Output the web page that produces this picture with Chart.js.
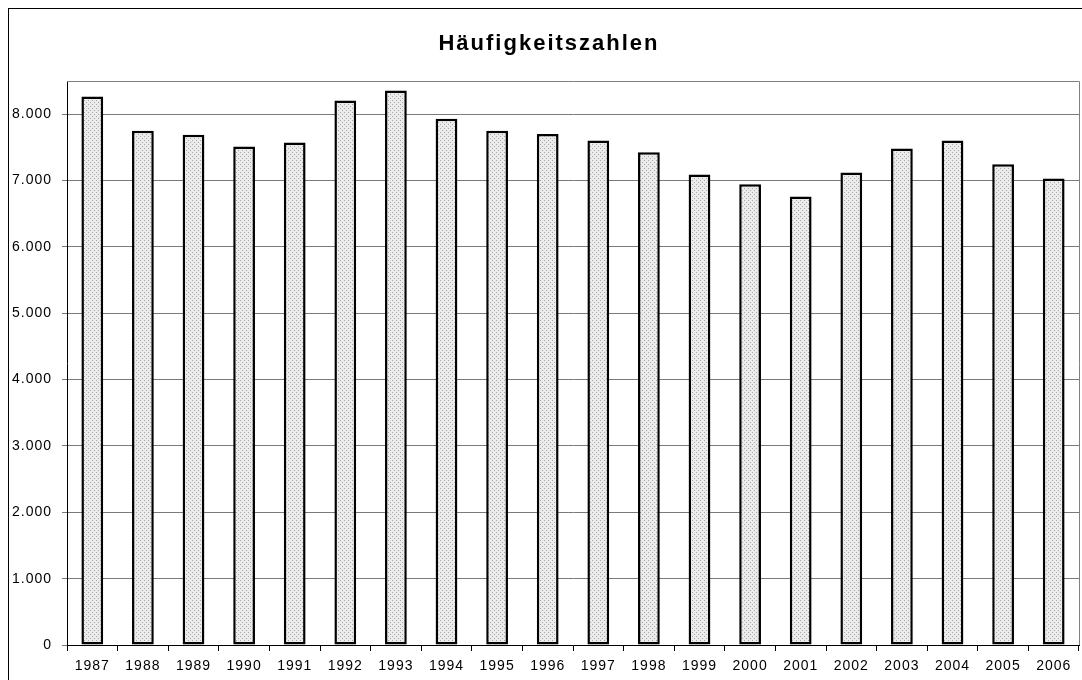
<!DOCTYPE html>
<html>
<head>
<meta charset="utf-8">
<script src="https://cdn.jsdelivr.net/npm/chart.js@4"></script>
<style>
  html, body { margin: 0; padding: 0; background: #ffffff; }
  #wrap { width: 1082px; height: 680px; }
</style>
</head>
<body>
<div id="wrap"><canvas id="c" width="1082" height="680"></canvas></div>
<script>
const chartTitle = 'Häufigkeitszahlen';
const years = ['1987','1988','1989','1990','1991','1992','1993','1994','1995','1996',
               '1997','1998','1999','2000','2001','2002','2003','2004','2005','2006'];
const counts = [8265, 7750, 7690, 7514, 7574, 8205, 8358, 7932, 7750, 7701,
                7604, 7426, 7091, 6944, 6761, 7122, 7483, 7604, 7244, 7030];
const yTickValues = [0, 1000, 2000, 3000, 4000, 5000, 6000, 7000, 8000];
const yMax = 8500;

function makePattern() {
  const p = document.createElement('canvas');
  p.width = 4; p.height = 4;
  const g = p.getContext('2d');
  g.fillStyle = '#ebebeb';
  g.fillRect(0, 0, 4, 4);
  g.fillStyle = '#a8a8a8';
  g.fillRect(0, 0, 1, 1);
  g.fillRect(2, 2, 1, 1);
  return document.getElementById('c').getContext('2d').createPattern(p, 'repeat');
}

function fmt(v) {
  return String(v).replace(/\B(?=(\d{3})+(?!\d))/g, '.');
}

const spacingPlugin = {
  id: 'spacing',
  beforeDraw(chart) { chart.ctx.letterSpacing = '1px'; }
};

const framePlugin = {
  id: 'frame',
  beforeDatasetsDraw(chart) {
    const a = chart.chartArea, ctx = chart.ctx;
    ctx.save();
    ctx.strokeStyle = '#808080';
    ctx.lineWidth = 1;
    ctx.beginPath();
    ctx.moveTo(a.left, Math.round(a.top) + 0.5);
    ctx.lineTo(Math.round(a.right) + 0.5, Math.round(a.top) + 0.5);
    ctx.lineTo(Math.round(a.right) + 0.5, a.bottom);
    ctx.stroke();
    ctx.restore();
  },
  afterDraw(chart) {
    const ctx = chart.ctx;
    ctx.save();
    ctx.strokeStyle = '#000000';
    ctx.lineWidth = 1;
    ctx.strokeRect(8.5, 8.5, 3000, 3000);
    ctx.letterSpacing = '2px';
    ctx.fillStyle = '#000000';
    ctx.font = 'bold 22px "Liberation Sans", Arial, sans-serif';
    ctx.textAlign = 'center';
    ctx.textBaseline = 'middle';
    ctx.fillText(chartTitle, 549, 44);
    ctx.restore();
  }
};

new Chart(document.getElementById('c'), {
  type: 'bar',
  data: {
    labels: years,
    datasets: [{
      data: counts,
      backgroundColor: makePattern(),
      borderColor: '#000000',
      borderWidth: 2.5,
      borderSkipped: false,
      barPercentage: 0.43,
      categoryPercentage: 1.0
    }]
  },
  options: {
    responsive: false,
    animation: false,
    devicePixelRatio: 1,
    layout: { padding: { top: 81, right: 3, bottom: 0, left: 0 } },
    plugins: {
      legend: { display: false },
      title: { display: false },
      tooltip: { enabled: false }
    },
    scales: {
      x: {
        offset: true,
        grid: { offset: true, drawOnChartArea: false, drawTicks: true, tickLength: 6, color: '#000000' },
        border: { display: true, color: '#000000', width: 1 },
        ticks: {
          color: '#000000',
          padding: 7,
          maxRotation: 0,
          autoSkip: false,
          font: { family: '"Liberation Sans", Arial, sans-serif', size: 14 }
        },
        afterFit(s) { s.height = 35; }
      },
      y: {
        min: 0,
        max: yMax,
        afterBuildTicks(s) { s.ticks = yTickValues.map(v => ({ value: v })); },
        grid: { color: '#7a7a7a', lineWidth: 1, drawTicks: true, tickLength: 5 },
        border: { display: true, color: '#000000', width: 1 },
        ticks: {
          color: '#000000',
          padding: 10,
          font: { family: '"Liberation Sans", Arial, sans-serif', size: 14 },
          callback: (v) => fmt(v)
        },
        afterFit(s) { s.width = 67; }
      }
    }
  },
  plugins: [spacingPlugin, framePlugin]
});
</script>
</body>
</html>
